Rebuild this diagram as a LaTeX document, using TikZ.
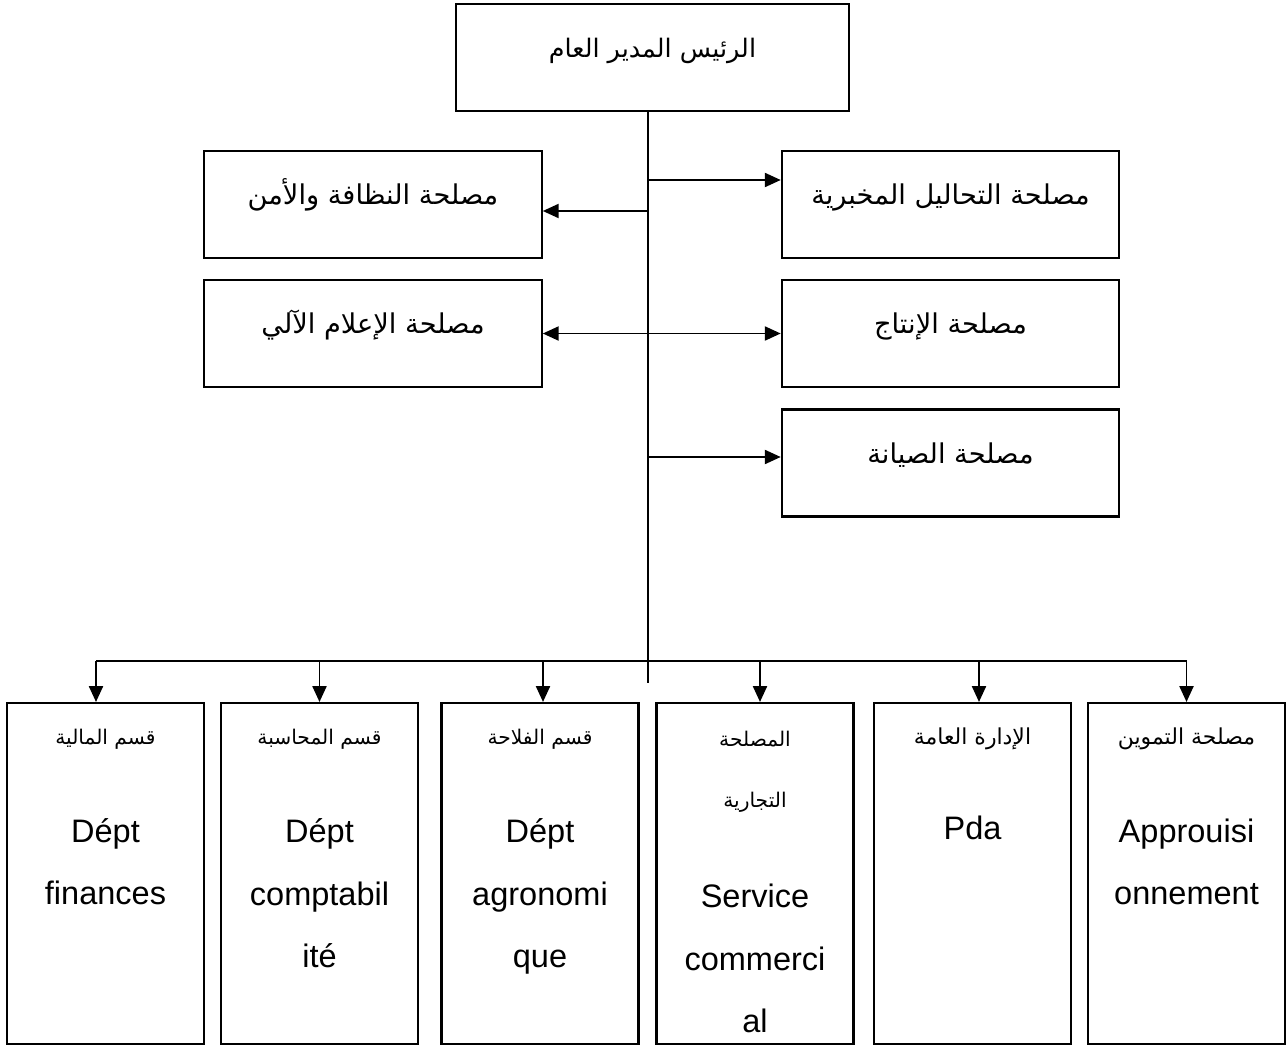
\documentclass[tikz,border=0pt]{standalone}
\usepackage{fontspec}
\setmainfont{Liberation Sans}
\newfontfamily\arabicfont[Script=Arabic]{DejaVu Sans}
\TeXXeTstate=1
\usetikzlibrary{arrows.meta}

\newcommand{\ar}[1]{{\arabicfont\beginR #1\endR}}

\tikzset{
  orgbox/.style={draw, line width=1.2pt, inner sep=0pt, text height=.4cm, text depth=.4cm,
    font=\fontsize{15.5}{19}\selectfont},
  midbox/.style={orgbox, minimum width=6.75cm, minimum height=2.14cm},
  deptbox/.style={draw, line width=1.2pt, minimum width=3.94cm, minimum height=6.82cm},
  artext/.style={font=\fontsize{11.5}{34.7}\selectfont, align=center},
  latext/.style={font=\fontsize{18.5}{35.8}\selectfont, align=center, anchor=base},
  link/.style={line width=1pt},
  arr/.style={link, -{Triangle[length=9pt,width=8pt]}},
  dblarr/.style={link, {Triangle[length=9pt,width=8pt]}-{Triangle[length=9pt,width=8pt]}},
}

\begin{document}
\begin{tikzpicture}
\useasboundingbox (0,0) rectangle (25.72,-20.9);

\node[orgbox, minimum width=7.86cm, minimum height=2.14cm, font=\fontsize{14.5}{17}\selectfont]
  (pdg) at (13.05,-1.15) {\ar{الرئيس المدير العام}};

\node[midbox] (proprete) at (7.46,-4.09) {\ar{مصلحة النظافة والأمن}};
\node[midbox] (info) at (7.46,-6.67) {\ar{مصلحة الإعلام الآلي}};
\node[midbox] (labo) at (19.01,-4.09) {\ar{مصلحة التحاليل المخبرية}};
\node[midbox] (prod) at (19.01,-6.67) {\ar{مصلحة الإنتاج}};
\node[midbox] (maint) at (19.01,-9.26) {\ar{مصلحة الصيانة}};

% tronc
\coordinate (bas) at (12.96,-13.66);
\coordinate (t1) at (12.96,-3.6);
\coordinate (t2) at (12.96,-4.22);
\coordinate (t3) at (12.96,-9.14);
\coordinate (bus) at (12.96,-13.22);
\draw[link] (pdg.south -| bas) -- (bas);
\draw[arr] (t1) -- (t1 -| labo.west);
\draw[arr] (t2) -- (t2 -| proprete.east);
\draw[dblarr] (info.east) -- (prod.west);
\draw[arr] (t3) -- (t3 -| maint.west);

% departements
\node[deptbox] (fin) at (2.11,-17.47) {};
\node[deptbox] (compta) at (6.39,-17.47) {};
\node[deptbox] (agro) at (10.8,-17.47) {};
\node[deptbox] (comm) at (15.1,-17.47) {};
\node[deptbox] (pda) at (19.45,-17.47) {};
\node[deptbox] (appro) at (23.73,-17.47) {};

\foreach \n/\s in {fin/-0.19, compta/0, agro/0.06, comm/0.1, pda/0.13, appro/0}{
  \coordinate (d\n) at ([xshift=\s cm]\n.north);
  \draw[arr] (d\n |- bus) -- (d\n);
}
\draw[link] (dfin |- bus) -- (dappro |- bus);

\node[artext] at ([yshift=-.74cm]fin.north) {\ar{قسم المالية}};
\node[artext] at ([yshift=-.74cm]compta.north) {\ar{قسم المحاسبة}};
\node[artext] at ([yshift=-.74cm]agro.north) {\ar{قسم الفلاحة}};
\node[artext] at ([yshift=-1.39cm]comm.north) {\ar{المصلحة}\\\ar{التجارية}};
\node[artext, font=\fontsize{12.5}{15}\selectfont] at ([yshift=-.74cm]pda.north) {\ar{الإدارة العامة}};
\node[artext, font=\fontsize{12.5}{15}\selectfont] at ([yshift=-.74cm]appro.north) {\ar{مصلحة التموين}};

\node[latext] at ([yshift=-4.06cm]fin.north) {Dépt\\finances};
\node[latext] at ([yshift=-5.32cm]compta.north) {Dépt\\comptabil\\ité};
\node[latext] at ([yshift=-5.32cm]agro.north) {Dépt\\agronomi\\que};
\node[latext] at ([yshift=-6.62cm]comm.north) {Service\\commerci\\al};
\node[latext] at ([yshift=-2.76cm]pda.north) {Pda};
\node[latext] at ([yshift=-4.06cm]appro.north) {Approuisi\\onnement};

\end{tikzpicture}
\end{document}
